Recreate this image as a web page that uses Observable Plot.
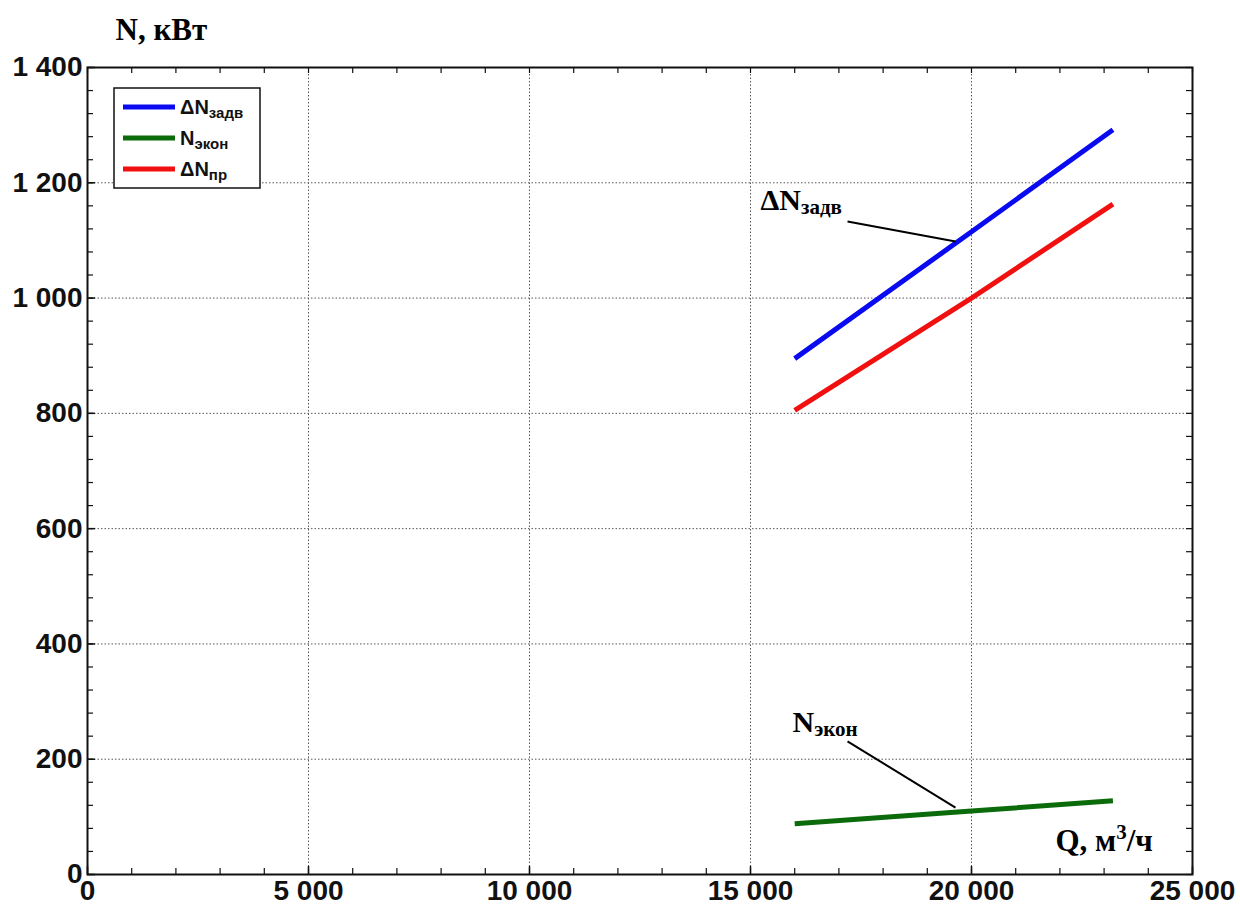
<!DOCTYPE html>
<html>
<head>
<meta charset="utf-8">
<script src="https://cdn.jsdelivr.net/npm/d3@7"></script>
<script src="https://cdn.jsdelivr.net/npm/@observablehq/plot@0.6"></script>
<style>
  html, body { margin: 0; padding: 0; background: #fff; }
  #chart { width: 1240px; height: 909px; }
</style>
</head>
<body>
<div id="chart"></div>
<script>
// ---- Data ----
const Q = [16000, 20000, 23200];                 // расход, м3/ч
const dN_zadv = [895, 1115, 1292];               // ΔN задв, кВт
const N_ekon = [88, 110, 128];                   // N экон, кВт
const dN_pr = [805, 1000, 1163];                 // ΔN пр, кВт

const seriesNames = ["ΔN_задв", "N_экон", "ΔN_пр"];
const seriesValues = [dN_zadv, N_ekon, dN_pr];
const seriesColors = ["#0a0af0", "#0b6b0b", "#f01010"];

const xMajor = [0, 5000, 10000, 15000, 20000, 25000];
const xMinor = d3.range(0, 25001, 1000);
const yMajor = [0, 200, 400, 600, 800, 1000, 1200, 1400];
const yMinor = d3.range(0, 1401, 40);

// annotation labels with leader lines (data units)
const annLabels = [
  {text: "ΔN_задв", Q: 15226, N: 1152},
  {text: "N_экон", Q: 15950, N: 248}
];
const annLinks = [
  {Q1: 17195, N1: 1133, Q2: 19638, N2: 1098},
  {Q1: 17195, N1: 231, Q2: 19638, N2: 116}
];
const xTitle = {text: "Q, м^3/ч", Q: 21900, N: 40};
const yTitle = "N, кВт";

// ---- Build table ----
const rows = [];
seriesNames.forEach((name, i) => {
  Q.forEach((q, j) => rows.push({series: name, Q: q, N: seriesValues[i][j]}));
});

const fmt = d3.formatLocale({decimal: ",", thousands: " ", grouping: [3], currency: ["", ""]}).format(",d");

const W = 1240, H = 909;
const mL = 87, mR = 48, mT = 67, mB = 35;
const innerW = W - mL - mR, innerH = H - mT - mB;
const minorLen = 6, majorLen = 8;

const serif = "'Liberation Serif', 'Times New Roman', serif";

const chart = Plot.plot({
  width: W, height: H,
  marginLeft: mL, marginRight: mR, marginTop: mT, marginBottom: mB,
  style: {fontFamily: "'Liberation Sans', Arial, sans-serif", background: "#fff", color: "#111"},
  x: {domain: [0, 25000]},
  y: {domain: [0, 1400]},
  color: {domain: seriesNames, range: seriesColors},
  marks: [
    Plot.gridX(xMajor, {stroke: "#555", strokeOpacity: 1, strokeDasharray: "1.5,2", strokeWidth: 1}),
    Plot.gridY(yMajor, {stroke: "#555", strokeOpacity: 1, strokeDasharray: "1.5,2", strokeWidth: 1}),
    // inward minor ticks on all four sides
    Plot.ruleX(xMinor, {stroke: "#111", strokeWidth: 1.2, insetTop: innerH - minorLen}),
    Plot.ruleX(xMinor, {stroke: "#111", strokeWidth: 1.2, insetBottom: innerH - minorLen}),
    Plot.ruleY(yMinor, {stroke: "#111", strokeWidth: 1.2, insetRight: innerW - minorLen}),
    Plot.ruleY(yMinor, {stroke: "#111", strokeWidth: 1.2, insetLeft: innerW - minorLen}),
    Plot.ruleX(xMajor, {stroke: "#111", strokeWidth: 1.5, insetTop: innerH - majorLen}),
    Plot.ruleY(yMajor, {stroke: "#111", strokeWidth: 1.5, insetRight: innerW - majorLen}),
    Plot.axisX({ticks: xMajor, tickFormat: fmt, tickSize: 0, tickPadding: 6, fontSize: 28, fontWeight: "bold", fill: "#111", label: null}),
    Plot.axisY({ticks: yMajor, tickFormat: fmt, tickSize: 0, tickPadding: 5, fontSize: 28, fontWeight: "bold", fill: "#111", label: null}),
    Plot.frame({stroke: "#111", strokeWidth: 2}),
    Plot.line(rows, {x: "Q", y: "N", z: "series", stroke: "series", strokeWidth: 5, strokeLinecap: "butt"}),
    Plot.link(annLinks, {x1: "Q1", y1: "N1", x2: "Q2", y2: "N2", stroke: "#000", strokeWidth: 2}),
    Plot.text(annLabels, {x: "Q", y: "N", text: "text", textAnchor: "start", lineAnchor: "bottom", fontFamily: serif, fontWeight: "bold", fontSize: 30, fill: "#000", className: "scripted"}),
    Plot.text([xTitle], {x: "Q", y: "N", text: "text", textAnchor: "start", lineAnchor: "bottom", fontFamily: serif, fontWeight: "bold", fontSize: 31, fill: "#000", className: "scripted"}),
    Plot.text([yTitle], {frameAnchor: "top-left", dx: 28, dy: -28, textAnchor: "start", lineAnchor: "bottom", fontFamily: serif, fontWeight: "bold", fontSize: 31, fill: "#000"})
  ]
});

// convert "a_b" to subscript, "a^b" to superscript inside text nodes
function applyScripts(textSel, subSize, subDy, supSize, supDy) {
  textSel.each(function() {
    const t = d3.select(this);
    const s = t.text();
    if (!/[_^]/.test(s)) return;
    t.text(null);
    const parts = s.split(/([_^])/);
    let mode = null;
    parts.forEach(p => {
      if (p === "_" || p === "^") { mode = p; return; }
      if (mode === null) { t.append("tspan").text(p); return; }
      if (mode === "_") {
        t.append("tspan").attr("font-size", subSize).attr("dy", subDy).text(p);
      } else {
        t.append("tspan").attr("font-size", supSize).attr("dy", supDy).text(p[0]);
        if (p.length > 1) t.append("tspan").attr("dy", -supDy).text(p.slice(1));
      }
      mode = null;
    });
  });
}
const svg = d3.select(chart);
applyScripts(svg.selectAll("g.scripted text"), 21, 4, 21, -12);

// legend (inside the plot, top-left)
const lg = svg.append("g")
  .attr("font-family", "'Liberation Sans', Arial, sans-serif")
  .attr("font-weight", "bold")
  .attr("text-anchor", "start");
lg.append("rect").attr("x", 114).attr("y", 88).attr("width", 146).attr("height", 100)
  .attr("fill", "#fff").attr("stroke", "#111").attr("stroke-width", 1.5);
seriesNames.forEach((name, i) => {
  const cy = 107 + i * 31;
  lg.append("line").attr("x1", 123).attr("x2", 175).attr("y1", cy).attr("y2", cy)
    .attr("stroke", seriesColors[i]).attr("stroke-width", 5);
  const t = lg.append("text").attr("x", 180).attr("y", cy + 7).attr("font-size", 20)
    .attr("text-anchor", "start").attr("fill", "#111").text(name);
  applyScripts(t, 15, 4, 15, -8);
});

document.getElementById("chart").appendChild(chart);
</script>
</body>
</html>
